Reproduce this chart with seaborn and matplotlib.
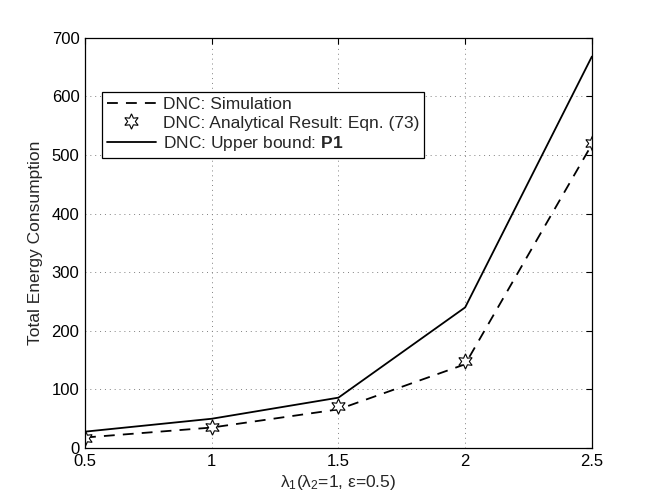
import numpy as np
import pandas as pd
import matplotlib
matplotlib.use("Agg")
import matplotlib.pyplot as plt
import seaborn as sns

lam1 = [0.5, 1.0, 1.5, 2.0, 2.5]
sim = [18, 35, 66, 143, 518]
analytical = [18, 36, 71, 148, 520]
upper = [28, 50, 86, 240, 668]

xticks = [0.5, 1, 1.5, 2, 2.5]
xticklabels = ["0.5", "1", "1.5", "2", "2.5"]
yticks = [0, 100, 200, 300, 400, 500, 600, 700]

sns.set_theme(style="white")
plt.rcParams['font.family'] = ['Liberation Sans', 'DejaVu Sans']
plt.rcParams['mathtext.fontset'] = 'custom'
plt.rcParams['mathtext.rm'] = 'Liberation Sans'
plt.rcParams['mathtext.it'] = 'Liberation Sans:italic'
plt.rcParams['mathtext.bf'] = 'Liberation Sans:bold'

fig = plt.figure(figsize=(6.54, 5.04), dpi=100)
ax = fig.add_axes([0.130, 0.111, 0.775, 0.814])

df = pd.DataFrame({"x": lam1, "sim": sim, "ana": analytical, "up": upper})

sns.lineplot(data=df, x="x", y="sim", ax=ax, color="black", linewidth=1.3,
             label="DNC: Simulation")
ax.lines[-1].set_dashes([6, 4.5])
sns.lineplot(data=df, x="x", y="ana", ax=ax, color="none", linewidth=0,
             marker=(6, 1, 0), markersize=11, markerfacecolor="white",
             markeredgecolor="black", markeredgewidth=0.8,
             label="DNC: Analytical Result: Eqn. (73)")
sns.lineplot(data=df, x="x", y="up", ax=ax, color="black", linewidth=1.3,
             label="DNC: Upper bound: $\\mathbf{P1}$")

ax.set_xlim(0.5, 2.5)
ax.set_ylim(0, 700)
ax.set_xticks(xticks)
ax.set_xticklabels(xticklabels)
ax.set_yticks(yticks)
ax.tick_params(direction="in", length=4, width=0.8, colors="black",
               labelsize=12, top=True, right=True, pad=4)
ax.grid(True, linestyle=(0, (1, 4)), color="#808080", linewidth=0.7)
for s in ax.spines.values():
    s.set_color("black")
    s.set_linewidth(0.9)

ax.set_xlabel("λ$_1$(λ$_2$=1, ε=0.5)", fontsize=12.5, labelpad=3)
ax.set_ylabel("Total Energy Consumption", fontsize=12.5, labelpad=6)

leg = ax.legend(loc="upper left", bbox_to_anchor=(0.033, 0.869), fontsize=12.5,
                frameon=True, fancybox=False, edgecolor="black",
                handlelength=2.8, handletextpad=0.4, borderpad=0.3,
                labelspacing=0.2, borderaxespad=0)
leg.get_frame().set_linewidth(0.9)
leg.get_frame().set_facecolor("white")
leg.get_frame().set_alpha(1)

fig.savefig("out.png", dpi=100, facecolor="white")
